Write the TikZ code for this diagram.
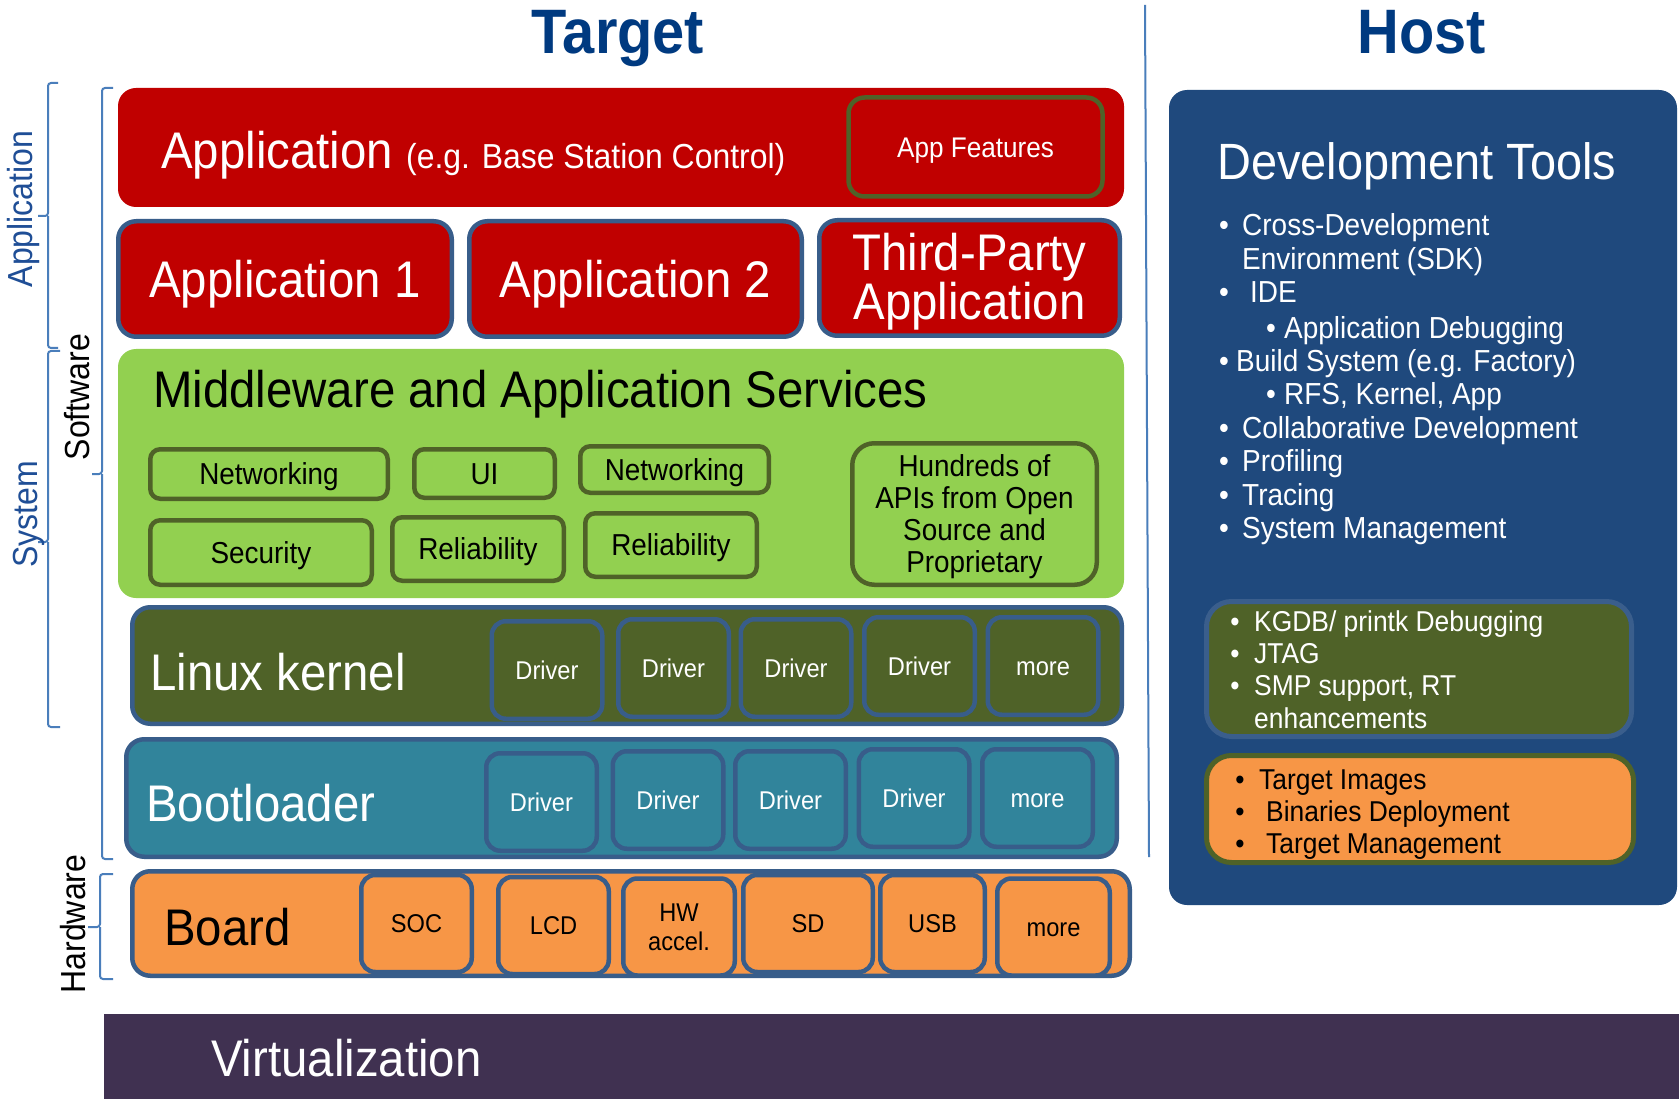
\documentclass[tikz,border=0pt]{standalone}
\usepackage{fontspec}
\setmainfont{Liberation Sans}[FakeStretch=0.92]
\usepackage{graphicx}
\newcommand\myfz[2]{\fontsize{#1}{#2}\selectfont}
\definecolor{cred}{HTML}{C00000}
\definecolor{cblue}{HTML}{385D8A}
\definecolor{colive}{HTML}{4F6228}
\definecolor{cgreen}{HTML}{92D050}
\definecolor{cteal}{HTML}{31849B}
\definecolor{corange}{HTML}{F79646}
\definecolor{chost}{HTML}{1F497D}
\definecolor{cvirt}{HTML}{403151}
\definecolor{ctitle}{HTML}{003A80}
\definecolor{clabel}{HTML}{1F4E96}
\definecolor{cbrk}{HTML}{4A7EBB}
\definecolor{cinner}{HTML}{3A5E8C}
\begin{document}
\begin{tikzpicture}[x=1pt,y=-1pt,
  lay/.style={rectangle, rounded corners=18pt, inner sep=0pt},
  sub/.style={rectangle, rounded corners=12pt, inner sep=0pt, line width=4.5pt, align=center},
  fbig/.style={font={\myfz{51.5}{60}}, text height=36.9pt, text depth=0pt},
  fsmall/.style={font={\myfz{25.7}{29}}, text height=18.4pt, text depth=0pt},
  fmid/.style={font={\myfz{30.3}{32}}, text height=21.7pt, text depth=0pt},
  txt/.style={inner sep=0pt, anchor=base west},
  brk/.style={draw=cbrk, line width=2pt, rounded corners=3pt},
  hbul/.style={inner sep=0pt, anchor=base, text=white, font={\myfz{30.4}{34}}},
  htx/.style={inner sep=0pt, anchor=base west, text=white, font={\myfz{30.4}{34}}},
  gbul/.style={inner sep=0pt, anchor=base, font={\myfz{28.7}{32}}},
  gtx/.style={inner sep=0pt, anchor=base west, font={\myfz{28.7}{32}}},
  gitem/.style={sub, draw=colive, fill=cgreen, rounded corners=10pt, fmid},
  ditem/.style={sub, draw=cblue, text=white, fsmall, rounded corners=14pt, minimum width=110.5pt, minimum height=97.5pt},
  bitem/.style={sub, draw=cblue, fill=corange, fsmall, rounded corners=14pt, minimum height=97pt},
  sidelbl/.style={rotate=90, inner sep=0pt, font={\myfz{34.8}{40}}},
]
\useasboundingbox[fill=white] (0,0) rectangle (1679,1099);

% titles
\node[anchor=base, inner sep=0pt, text=ctitle, font={\myfz{62.8}{70}\bfseries}] (ttarget) at (618,53.5) {Target};
\node[anchor=base, inner sep=0pt, text=ctitle, font={\myfz{62.8}{70}\bfseries}] (thost) at (1422,53.5) {Host};

% separator
\coordinate (sepT) at (1145,5);
\coordinate (sepB) at (1149,857);
\draw[draw=cbrk, line width=2pt] (sepT) -- (sepB);

% left brackets
\draw[brk] (58,83) -| (48,216) -- (38,216);
\draw[brk] (48,216) |- (58,348);
\draw[brk] (60,351) -| (48,542) -- (38,542);
\draw[brk] (48,542) |- (60,727);
\draw[brk] (113,88) -| (102,474) -- (92,474);
\draw[brk] (102,474) |- (113,859);
\draw[brk] (113,874) -| (100,927) -- (88,927);
\draw[brk] (100,927) |- (113,979);

\node[sidelbl, text=clabel] (lapp) at (24,209) {Application};
\node[sidelbl, text=clabel] (lsys) at (29,514) {System};
\node[sidelbl] (lsoft) at (77,397) {Software};
\node[sidelbl] (lhard) at (73,924) {Hardware};

% application bar
\node[lay, fill=cred, minimum width=1006pt, minimum height=119pt] (appbar) at (621,147.5) {};
\node[txt, text=white, font={\myfz{51.5}{60}}] (apptitle) at (161,169) {Application {\myfz{34.7}{40}(e.g. Base Station Control)}};
\node[sub, draw=colive, fill=cred, rounded corners=16pt, minimum width=254pt, minimum height=99pt, text=white, font={\myfz{28.4}{32}}, text height=20.3pt, text depth=0pt] (appfeat) at (975.5,147) {App Features};

% applications
\node[lay, draw=cblue, line width=4.5pt, fill=cred, minimum width=333.5pt, minimum height=115.5pt, text=white, fbig] (app1) at (285,279) {Application 1};
\node[lay, draw=cblue, line width=4.5pt, fill=cred, minimum width=332.5pt, minimum height=115.5pt, text=white, fbig] (app2) at (635.5,279) {Application 2};
\node[lay, draw=cblue, line width=4.5pt, fill=cred, minimum width=300.5pt, minimum height=115.5pt, text=white, align=center, font={\myfz{51.5}{47}}, text height=83.9pt, text depth=0pt] (app3) at (969.5,278) {Third-Party\\Application};

% middleware
\node[lay, fill=cgreen, minimum width=1006pt, minimum height=249pt] (mw) at (621,473.5) {};
\node[txt, font={\myfz{51.5}{60}}] (mwtitle) at (153,407) {Middleware and Application Services};
\node[gitem, minimum width=237.5pt, minimum height=49.5pt] (net1) at (269,474) {Networking};
\node[gitem, minimum width=140.5pt, minimum height=48.5pt] (ui) at (484.5,473.5) {UI};
\node[gitem, minimum width=188.5pt, minimum height=46.5pt] (net2) at (674.5,469.5) {Networking};
\node[gitem, minimum width=221.5pt, minimum height=64.5pt] (sec) at (261,552.5) {Security};
\node[gitem, minimum width=171.5pt, minimum height=63.5pt] (rel1) at (478,549) {Reliability};
\node[gitem, minimum width=171.5pt, minimum height=63.5pt] (rel2) at (671,545) {Reliability};
\node[gitem, rounded corners=22pt, minimum width=244.5pt, minimum height=141.5pt, text height=117.7pt, text depth=0pt] (hund) at (974.5,514) {Hundreds of\\APIs from Open\\Source and\\Proprietary};

% kernel
\node[lay, draw=cblue, line width=4.5pt, fill=colive, minimum width=989.5pt, minimum height=116.5pt] (kernel) at (627,665.5) {};
\node[txt, text=white, font={\myfz{51.5}{60}}] (kerneltxt) at (150,690.5) {Linux kernel};
\foreach \cx/\cy/\t [count=\i] in {547/670/Driver, 673.5/668/Driver, 796/668/Driver, 919.5/666/Driver, 1043/666/more}
  \node[ditem, fill=colive] (kd\i) at (\cx,\cy) {\t};

% bootloader
\node[lay, draw=cblue, line width=4.5pt, fill=cteal, minimum width=990.5pt, minimum height=117.5pt] (boot) at (621.5,798) {};
\node[txt, text=white, font={\myfz{51.5}{60}}] (boottxt) at (146,821) {Bootloader};
\foreach \cx/\cy/\t [count=\i] in {541.5/802/Driver, 668/800/Driver, 790.5/800/Driver, 914/798/Driver, 1037.5/798/more}
  \node[ditem, fill=cteal] (bd\i) at (\cx,\cy) {\t};

% board
\node[lay, draw=cblue, line width=4.5pt, fill=corange, minimum width=997.5pt, minimum height=104.5pt] (board) at (631,923.5) {};
\node[txt, font={\myfz{51.5}{60}}] (boardtxt) at (164,945) {Board};
\node[bitem, minimum width=110.5pt] (soc) at (416.5,923.5) {SOC};
\node[bitem, minimum width=110.5pt] (lcd) at (553.5,925.5) {LCD};
\node[bitem, minimum width=111.5pt, text height=47.4pt, text depth=0pt] (hw) at (679,927) {HW\\accel.};
\node[bitem, minimum width=129.5pt] (sd) at (808,923.5) {SD};
\node[bitem, minimum width=104.5pt] (usb) at (932.5,923.5) {USB};
\node[bitem, minimum width=112.5pt] (bmore) at (1053.5,927) {more};

% virtualization
\node[rectangle, fill=cvirt, inner sep=0pt, minimum width=1580pt, minimum height=100pt, anchor=north west] (virt) at (104,1014) {};
\node[txt, text=white, font={\myfz{51.5}{60}}] (virttxt) at (211,1076) {Virtualization};

% host
\node[lay, fill=chost, minimum width=508pt, minimum height=815pt] (host) at (1423,497.5) {};
\node[txt, text=white, font={\myfz{51}{56}}] (devtools) at (1217,180) {Development Tools};
\node[hbul] (hb1) at (1224,236) {\textbullet};
\node[htx] (ht1) at (1242,236) {Cross-Development};
\node[htx] (ht2) at (1242,270) {Environment (SDK)};
\node[hbul] (hb3) at (1224,303) {\textbullet};
\node[htx] (ht3) at (1250,303) {IDE};
\node[hbul] (hb4) at (1271,338) {\textbullet};
\node[htx] (ht4) at (1284,338) {Application Debugging};
\node[hbul] (hb5) at (1224,371) {\textbullet};
\node[htx] (ht5) at (1236,371) {Build System (e.g. Factory)};
\node[hbul] (hb6) at (1271,404) {\textbullet};
\node[htx] (ht6) at (1284,404) {RFS, Kernel, App};
\node[hbul] (hb7) at (1224,438) {\textbullet};
\node[htx] (ht7) at (1242,438) {Collaborative Development};
\node[hbul] (hb8) at (1224,471.5) {\textbullet};
\node[htx] (ht8) at (1242,471.5) {Profiling};
\node[hbul] (hb9) at (1224,505) {\textbullet};
\node[htx] (ht9) at (1242,505) {Tracing};
\node[hbul] (hb10) at (1224,538) {\textbullet};
\node[htx] (ht10) at (1242,538) {System Management};

\node[lay, draw=cinner, line width=5pt, fill=colive, rounded corners=25pt, minimum width=425pt, minimum height=135pt] (dbg) at (1419,669) {};
\node[gbul, text=white] (gb1) at (1235,631.5) {\textbullet};
\node[gtx, text=white] (gt1) at (1254,631.5) {KGDB/ printk Debugging};
\node[gbul, text=white] (gb2) at (1235,663.5) {\textbullet};
\node[gtx, text=white] (gt2) at (1254,663.5) {JTAG};
\node[gbul, text=white] (gb3) at (1235,695.5) {\textbullet};
\node[gtx, text=white] (gt3) at (1254,695.5) {SMP support, RT};
\node[gtx, text=white] (gt4) at (1254,728) {enhancements};

\node[lay, draw=colive, line width=5pt, fill=corange, rounded corners=25pt, minimum width=427pt, minimum height=107pt] (tgt) at (1420,809) {};
\node[gbul] (ob1) at (1240,789) {\textbullet};
\node[gtx] (ot1) at (1259,789) {Target Images};
\node[gbul] (ob2) at (1240,821) {\textbullet};
\node[gtx] (ot2) at (1266,821) {Binaries Deployment};
\node[gbul] (ob3) at (1240,853) {\textbullet};
\node[gtx] (ot3) at (1266,853) {Target Management};
\end{tikzpicture}
\end{document}
